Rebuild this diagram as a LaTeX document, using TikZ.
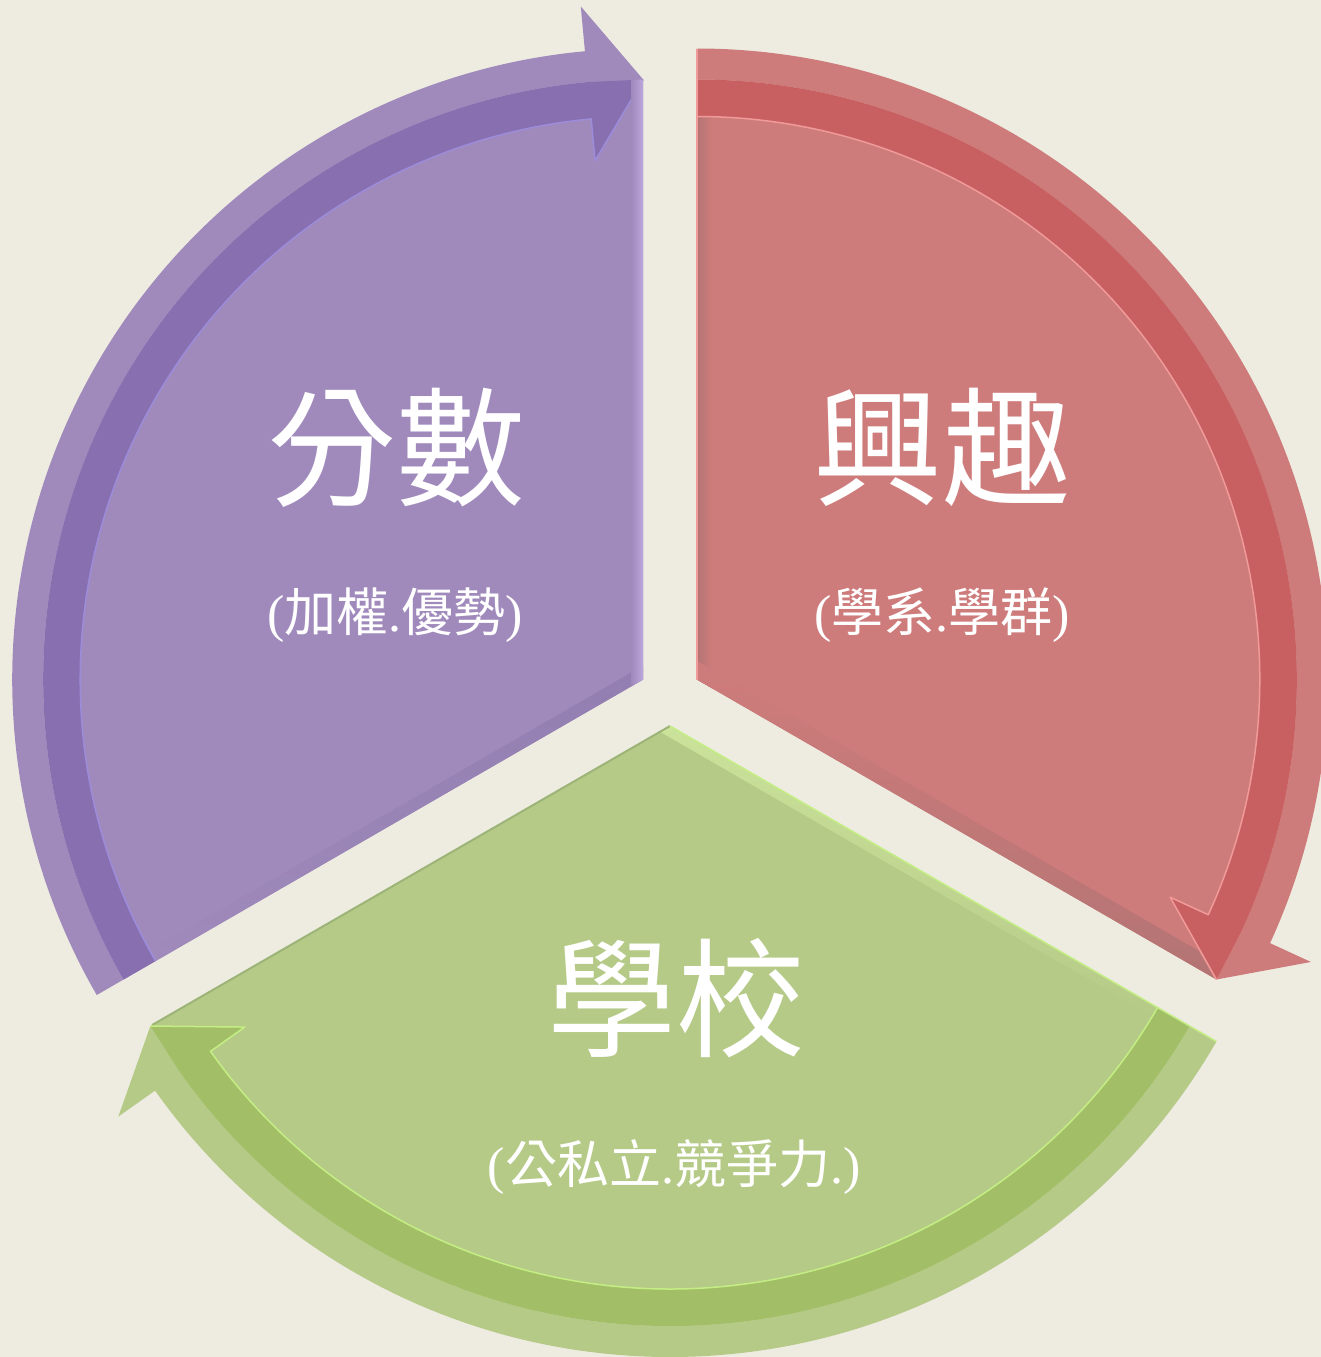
\documentclass[tikz,border=0pt]{standalone}
\usepackage{fontspec}
\setmainfont{Liberation Serif}
\newfontfamily\cjk{Noto Sans CJK TC}
\newcommand\zh[1]{{\cjk #1}}
\usetikzlibrary{calc}
\definecolor{bg}{HTML}{EEECE1}
\definecolor{pfill}{HTML}{A08ABC}
\definecolor{pdark}{HTML}{8870B0}
\definecolor{pedge}{HTML}{BBA8DC}
\definecolor{pline}{HTML}{9C8CDA}
\definecolor{pshad}{HTML}{927EB0}
\definecolor{rfill}{HTML}{CE7C7B}
\definecolor{rdark}{HTML}{C86061}
\definecolor{redge}{HTML}{B47474}
\definecolor{rline}{HTML}{F09A9A}
\definecolor{gfill}{HTML}{B6CA88}
\definecolor{gdark}{HTML}{A2BF68}
\definecolor{gedge}{HTML}{CAE29A}
\definecolor{gline}{HTML}{C4EE84}
\definecolor{gshad}{HTML}{9CB477}

% sector body: #1 apex, #2 tip angle, #3 fill
\newcommand\segbody[3]{%
  \pgfmathsetmacro\sA{#2+120}%
  \fill[#3] (#1) -- ($(#1)+(#2:600)$) arc[start angle=#2, end angle=\sA, radius=600] -- cycle;
}
% rim arrow: #1 apex, #2 tip angle, #3 fill, #4 dark, #5 edge line colour
\newcommand\segarrow[5]{%
  \pgfmathsetmacro\sA{#2+120}%
  \pgfmathsetmacro\bA{#2+5.3}%
  \fill[#3] ($(#1)+(\sA:600)$) -- ($(#1)+(\sA:631)$) arc[start angle=\sA, end angle=\bA, radius=631]
     -- ($(#1)+(\bA:676)$) -- ($(#1)+(#2:600)$) -- ($(#1)+(\bA:600)$)
     arc[start angle=\bA, end angle=\sA, radius=600] -- cycle;
  \fill[#4] ($(#1)+(\sA:600)$) arc[start angle=\sA, end angle=\bA, radius=600]
     -- ($(#1)+(#2:600)$) -- ($(#1)+(\bA:521)$) -- ($(#1)+(\bA:563)$)
     arc[start angle=\bA, end angle=\sA, radius=563] -- cycle;
  \draw[#5, line width=1.5pt, line join=round] ($(#1)+(\sA:563)$) arc[start angle=\sA, end angle=\bA, radius=563]
     -- ($(#1)+(\bA:521)$) -- ($(#1)+(#2:600)$);
}

\tikzset{
  bigtxt/.style={text=white, inner sep=0pt, font=\cjk\fontsize{129}{132}\selectfont},
  smalltxt/.style={text=white, inner sep=0pt, font=\fontsize{52}{60}\selectfont},
}

\begin{document}
\begin{tikzpicture}[x=1pt,y=1pt]
\useasboundingbox (0,0) rectangle (1321,-1357);
\fill[bg] (0,0) rectangle (1321,-1357);
\clip (0,0) rectangle (1321,-1357);

\coordinate (pA) at (643.2,-679.5);
\coordinate (rA) at (696.8,-679.5);
\coordinate (gA) at (670,-726);

% purple segment
\segbody{pA}{90}{pfill}
\begin{scope}[shift={(pA)}, rotate=210]
  \shade[top color=pshad, bottom color=pfill] (0,0) -- (563,0) -- (563,-12) -- (-6.93,-12) -- cycle;
\end{scope}
\segarrow{pA}{90}{pfill}{pdark}{pline}
\begin{scope}[shift={(pA)}]
  \shade[left color=pfill, right color=pedge] (0,0) -- (0,600) -- (-12,600) -- (-12,-6.93) -- cycle;
\end{scope}

% red segment
\segbody{rA}{-30}{rfill}
\begin{scope}[shift={(rA)}]
  \shade[left color=redge, right color=rfill] (0,0) -- (0,563) -- (16,563) -- (16,-9.24) -- cycle;
\end{scope}
\begin{scope}[shift={(rA)}, rotate=-30]
  \shade[bottom color=redge, top color=rfill] (0,0) -- (598,0) -- (570,16) -- (-9.24,16) -- cycle;
\end{scope}
\segarrow{rA}{-30}{rfill}{rdark}{rline}
\begin{scope}[shift={(rA)}]
  \draw[rline, line width=1.5pt] (0,0) -- (0,631);
\end{scope}

% green segment
\segbody{gA}{210}{gfill}
\begin{scope}[shift={(gA)}, rotate=-30]
  \shade[top color=gedge, bottom color=gfill] (0,0) -- (563,0) -- (563,-10) -- (-5.77,-10) -- cycle;
\end{scope}
\begin{scope}[shift={(gA)}, rotate=210]
  \draw[gshad, line width=2pt] (0,0) -- (598,0);
\end{scope}
\segarrow{gA}{210}{gfill}{gdark}{gline}
\begin{scope}[shift={(gA)}, rotate=-30]
  \draw[gline, line width=1.5pt] (0,0) -- (631,0);
\end{scope}

% texts
\node[bigtxt] (t1) at (396,-448) {分數};
\node[smalltxt] (s1) at (395,-615) {(\zh{加權}.\zh{優勢})};
\node[bigtxt] (t2) at (942,-447) {興趣};
\node[smalltxt] (s2) at (942,-615) {(\zh{學系}.\zh{學群})};
\node[bigtxt] (t3) at (676,-998) {學校};
\node[smalltxt] (s3) at (674,-1167) {(\zh{公私立}.\zh{競爭力}.)};
\end{tikzpicture}
\end{document}
